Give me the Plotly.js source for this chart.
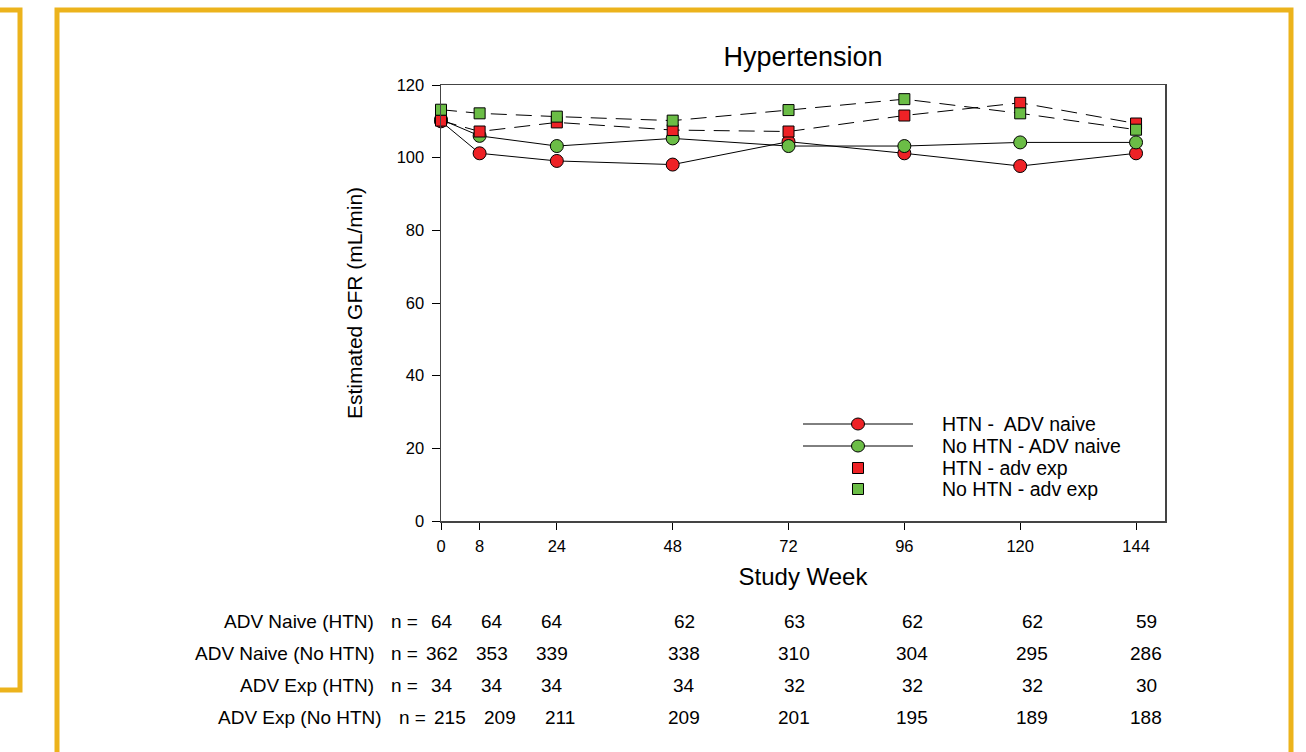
<!DOCTYPE html>
<html><head><meta charset="utf-8">
<script src="https://cdn.plot.ly/plotly-3.0.1.min.js"></script>
<style>html,body{margin:0;padding:0;background:#fff}#chart{width:1306px;height:752px}</style>
</head><body><div id="chart"></div>
<script>
// ---- data ----
const weeks = [0, 8, 24, 48, 72, 96, 120, 144];
const htnNaive   = [110.0, 101.2, 99.1, 98.1, 104.4, 101.2, 97.7, 101.2];
const noHtnNaive = [110.5, 106.0, 103.2, 105.3, 103.2, 103.2, 104.2, 104.2];
const htnExp     = [110.2, 107.2, 109.7, 107.6, 107.2, 111.6, 115.1, 109.4];
const noHtnExp   = [113.2, 112.2, 111.3, 110.2, 113.1, 116.1, 112.2, 107.7];
const seriesNames = ['HTN -  ADV naive', 'No HTN - ADV naive', 'HTN - adv exp', 'No HTN - adv exp'];
const yTicks = [0, 20, 40, 60, 80, 100, 120];
const tableLabels = ['ADV Naive (HTN)', 'ADV Naive (No HTN)', 'ADV Exp (HTN)', 'ADV Exp (No HTN)'];
const nHtnNaive   = [64, 64, 64, 62, 63, 62, 62, 59];
const nNoHtnNaive = [362, 353, 339, 338, 310, 304, 295, 286];
const nHtnExp     = [34, 34, 34, 34, 32, 32, 32, 30];
const nNoHtnExp   = [215, 209, 211, 209, 201, 195, 189, 188];

// ---- layout geometry (pixels) ----
const L = 441, R = 1165, T = 85, B = 521;
const W = R - L, H = B - T;
const px = p => (p - L) / W;
const py = p => (B - p) / H;
const FONT = 'Liberation Sans, Arial, sans-serif';
const RED = '#EE2226', GREEN = '#6BBD46', GOLD = '#ECB31C';

const lineStyle = {color: '#000', width: 1};
const dashStyle = {color: '#000', width: 1, dash: '16px,9px'};
function mk(sym, col, size) { return {symbol: sym, color: col, size: size, line: {color: '#000', width: 1}}; }

const traces = [
  {x: weeks, y: htnNaive, name: seriesNames[0], mode: 'lines+markers', line: lineStyle, marker: mk('circle', RED, 13), cliponaxis: false, showlegend: false},
  {x: weeks, y: noHtnNaive, name: seriesNames[1], mode: 'lines+markers', line: lineStyle, marker: mk('circle', GREEN, 13), cliponaxis: false, showlegend: false},
  {x: weeks, y: htnExp, name: seriesNames[2], mode: 'lines+markers', line: dashStyle, marker: mk('square', RED, 11), cliponaxis: false, showlegend: false},
  {x: weeks, y: noHtnExp, name: seriesNames[3], mode: 'lines+markers', line: dashStyle, marker: mk('square', GREEN, 11), cliponaxis: false, showlegend: false}
];

const shapes = [];
const annotations = [];

// frames
shapes.push({type: 'path', xref: 'paper', yref: 'paper', line: {color: GOLD, width: 5},
  path: `M ${px(-10)},${py(10)} L ${px(20)},${py(10)} L ${px(20)},${py(690)} L ${px(-10)},${py(690)}`});
shapes.push({type: 'path', xref: 'paper', yref: 'paper', line: {color: GOLD, width: 5},
  path: `M ${px(57)},${py(770)} L ${px(57)},${py(10)} L ${px(1291)},${py(10)} L ${px(1291)},${py(770)}`});

// legend (drawn)
const legRows = [424, 446, 468, 489];
const legSym = [['circle', RED, true], ['circle', GREEN, true], ['square', RED, false], ['square', GREEN, false]];
legRows.forEach((y, i) => {
  const [sym, col, hasLine] = legSym[i];
  if (hasLine) shapes.push({type: 'line', xref: 'paper', yref: 'paper', x0: px(803), x1: px(913), y0: py(y), y1: py(y), line: {color: '#000', width: 1}});
  if (sym === 'circle') shapes.push({type: 'circle', xref: 'paper', yref: 'paper', x0: px(851.5), x1: px(864.5), y0: py(y - 6), y1: py(y + 6), fillcolor: col, line: {color: '#000', width: 1}});
  else shapes.push({type: 'rect', xref: 'paper', yref: 'paper', x0: px(852.5), x1: px(863.5), y0: py(y - 5.5), y1: py(y + 5.5), fillcolor: col, line: {color: '#000', width: 1}});
  annotations.push({xref: 'paper', yref: 'paper', x: px(940), y: py(y), xanchor: 'left', yanchor: 'middle', text: seriesNames[i], showarrow: false, font: {family: FONT, size: 19.5, color: '#000'}});
});

// n table
const tableRows = [nHtnNaive, nNoHtnNaive, nHtnExp, nNoHtnExp];
const tableY = [621, 653, 685, 717];
const colPx = [442, 492, 552, 684, 794, 912, 1032, 1146];
const TF = 19;
tableRows.forEach((row, r) => {
  const shift = r === 3 ? 8 : 0;
  annotations.push({xref: 'paper', yref: 'paper', x: px(376 + shift), y: py(tableY[r]), xanchor: 'right', yanchor: 'middle', text: tableLabels[r], showarrow: false, font: {family: FONT, size: TF, color: '#000'}});
  annotations.push({xref: 'paper', yref: 'paper', x: px(404 + shift), y: py(tableY[r]), xanchor: 'center', yanchor: 'middle', text: 'n =', showarrow: false, font: {family: FONT, size: TF, color: '#000'}});
  row.forEach((v, c) => {
    annotations.push({xref: 'paper', yref: 'paper', x: px(colPx[c] + (c < 3 ? shift : 0)), y: py(tableY[r]), xanchor: 'center', yanchor: 'middle', text: String(v), showarrow: false, font: {family: FONT, size: TF, color: '#000'}});
  });
});

const layout = {
  width: 1306, height: 752,
  margin: {l: L, r: 1306 - R, t: T, b: 752 - B},
  paper_bgcolor: '#fff', plot_bgcolor: '#fff',
  font: {family: FONT, color: '#000'},
  showlegend: false,
  title: {text: 'Hypertension', font: {family: FONT, size: 27, color: '#000'}, x: 0.5, xref: 'paper', xanchor: 'center', y: 1 - 57 / 752, yref: 'container', yanchor: 'middle'},
  xaxis: {
    range: [0, 150], tickvals: weeks, ticktext: weeks.map(String),
    showgrid: false, zeroline: false, showline: true, linecolor: '#444', linewidth: 1.5, mirror: true,
    ticks: 'outside', ticklen: 7, tickcolor: '#000', tickwidth: 1, ticklabelstandoff: 3,
    tickfont: {family: FONT, size: 16.5, color: '#000'},
    title: {text: 'Study Week', font: {family: FONT, size: 24, color: '#000'}, standoff: 14}
  },
  yaxis: {
    range: [0, 120], tickvals: yTicks,
    showgrid: false, zeroline: false, showline: true, linecolor: '#444', linewidth: 1.5, mirror: true,
    ticks: 'outside', ticklen: 8, tickcolor: '#000', tickwidth: 1, ticklabelstandoff: 4,
    tickfont: {family: FONT, size: 16.5, color: '#000'},
    title: {text: 'Estimated GFR (mL/min)', font: {family: FONT, size: 21, color: '#000'}, standoff: 28}
  },
  shapes: shapes,
  annotations: annotations
};

Plotly.newPlot('chart', traces, layout, {displayModeBar: false, staticPlot: true});
</script>
</body></html>
